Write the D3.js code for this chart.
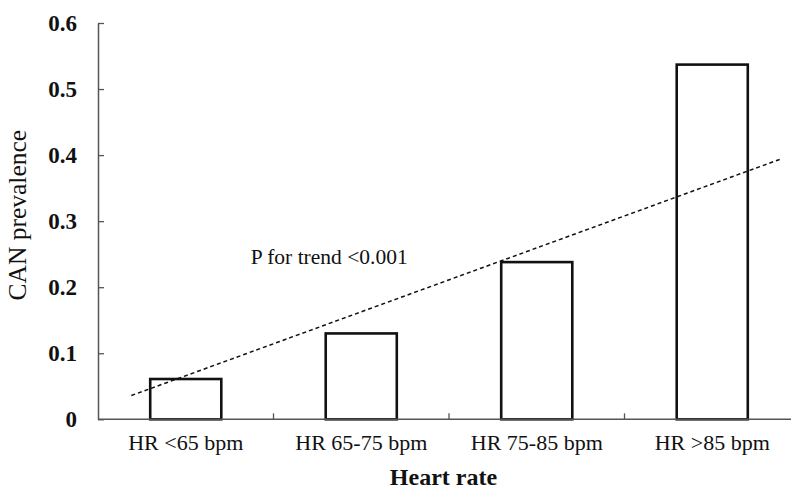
<!DOCTYPE html>
<html>
<head>
<meta charset="utf-8">
<script src="https://cdn.jsdelivr.net/npm/d3@7"></script>
<style>
  body { margin: 0; background: #fff; }
  text { font-family: "Liberation Serif", "Times New Roman", serif; }
</style>
</head>
<body>
<div id="chart"></div>
<script>
// Datos
const categories = ["HR <65 bpm", "HR 65-75 bpm", "HR 75-85 bpm", "HR >85 bpm"];
const prevalence = [0.061, 0.130, 0.238, 0.537];
const yTicks = [0, 0.1, 0.2, 0.3, 0.4, 0.5, 0.6];
// línea de tendencia (índice de categoría, valor)
const trendIndex = [-0.31, 3.39];
const trendValue = [0.036, 0.394];
const trendLabel = "P for trend <0.001";

const W = 791, H = 489;
const margin = { top: 23, right: -9, bottom: 70, left: 98 };
const plotW = W - margin.left - margin.right;   // el eje sigue fuera de la imagen
const plotH = H - margin.top - margin.bottom;

const svg = d3.select("#chart")
  .append("svg")
  .attr("width", W)
  .attr("height", H);

const g = svg.append("g")
  .attr("transform", `translate(${margin.left}, ${margin.top})`);

// Escalas
const x = d3.scaleBand()
  .domain(categories)
  .range([0, plotW])
  .padding(0);
const y = d3.scaleLinear()
  .domain([0, 0.6])
  .range([plotH + 0.3, 0]);
const xIdx = d3.scaleLinear()
  .domain([0, 1])
  .range([x.bandwidth() / 2, x.bandwidth() * 1.5]);

// Eje Y
const yAxis = g.append("g")
  .call(d3.axisLeft(y)
    .tickValues(yTicks)
    .tickFormat(d => d === 0 ? "0" : d3.format(".1f")(d))
    .tickSizeInner(-6)
    .tickSizeOuter(0)
    .tickPadding(21));
yAxis.select(".domain").attr("stroke", "#555").attr("stroke-width", 1.5);
yAxis.selectAll(".tick line").attr("stroke", "#555").attr("stroke-width", 1.3);
yAxis.selectAll("text")
  .attr("font-family", "Liberation Serif")
  .attr("font-weight", "bold")
  .attr("font-size", 23)
  .attr("fill", "#111");

// Barras
const barW = x.bandwidth() * 0.405;
g.selectAll("rect.bar")
  .data(categories)
  .enter()
  .append("rect")
  .attr("class", "bar")
  .attr("x", d => x(d) + (x.bandwidth() - barW) / 2)
  .attr("y", (d, i) => y(prevalence[i]))
  .attr("width", barW)
  .attr("height", (d, i) => y(0) - y(prevalence[i]))
  .attr("fill", "#fff")
  .attr("stroke", "#111")
  .attr("stroke-width", 2.6);

// Eje X
const xAxis = g.append("g")
  .attr("transform", `translate(0, ${y(0)})`);
xAxis.append("line")
  .attr("x1", 0)
  .attr("x2", plotW)
  .attr("stroke", "#555")
  .attr("stroke-width", 1.5);
xAxis.selectAll("line.tk")
  .data(categories.slice(1))
  .enter()
  .append("line")
  .attr("class", "tk")
  .attr("x1", d => x(d))
  .attr("x2", d => x(d))
  .attr("y1", 0)
  .attr("y2", -6)
  .attr("stroke", "#555")
  .attr("stroke-width", 1.3);
xAxis.selectAll("text.lbl")
  .data(categories)
  .enter()
  .append("text")
  .attr("class", "lbl")
  .attr("x", d => x(d) + x.bandwidth() / 2)
  .attr("y", 31)
  .attr("text-anchor", "middle")
  .attr("font-size", 22)
  .attr("fill", "#111")
  .text(d => d);

// Línea de tendencia
g.append("line")
  .attr("x1", xIdx(trendIndex[0]))
  .attr("y1", y(trendValue[0]))
  .attr("x2", xIdx(trendIndex[1]))
  .attr("y2", y(trendValue[1]))
  .attr("stroke", "#111")
  .attr("stroke-width", 1.5)
  .attr("stroke-dasharray", "4,3");

g.append("text")
  .attr("x", xIdx(0.37))
  .attr("y", y(0.235))
  .attr("font-size", 21.5)
  .attr("fill", "#111")
  .text(trendLabel);

// Título del eje X
g.append("text")
  .attr("x", (W - margin.left) / 2 - 1)
  .attr("y", plotH + 66)
  .attr("text-anchor", "middle")
  .attr("font-weight", "bold")
  .attr("font-size", 24)
  .attr("fill", "#111")
  .text("Heart rate");

// Título del eje Y
g.append("text")
  .attr("transform", "rotate(-90)")
  .attr("x", -(y(0.3) - 6))
  .attr("y", -margin.left + 26)
  .attr("text-anchor", "middle")
  .attr("font-size", 25.5)
  .attr("fill", "#111")
  .text("CAN prevalence");
</script>
</body>
</html>
